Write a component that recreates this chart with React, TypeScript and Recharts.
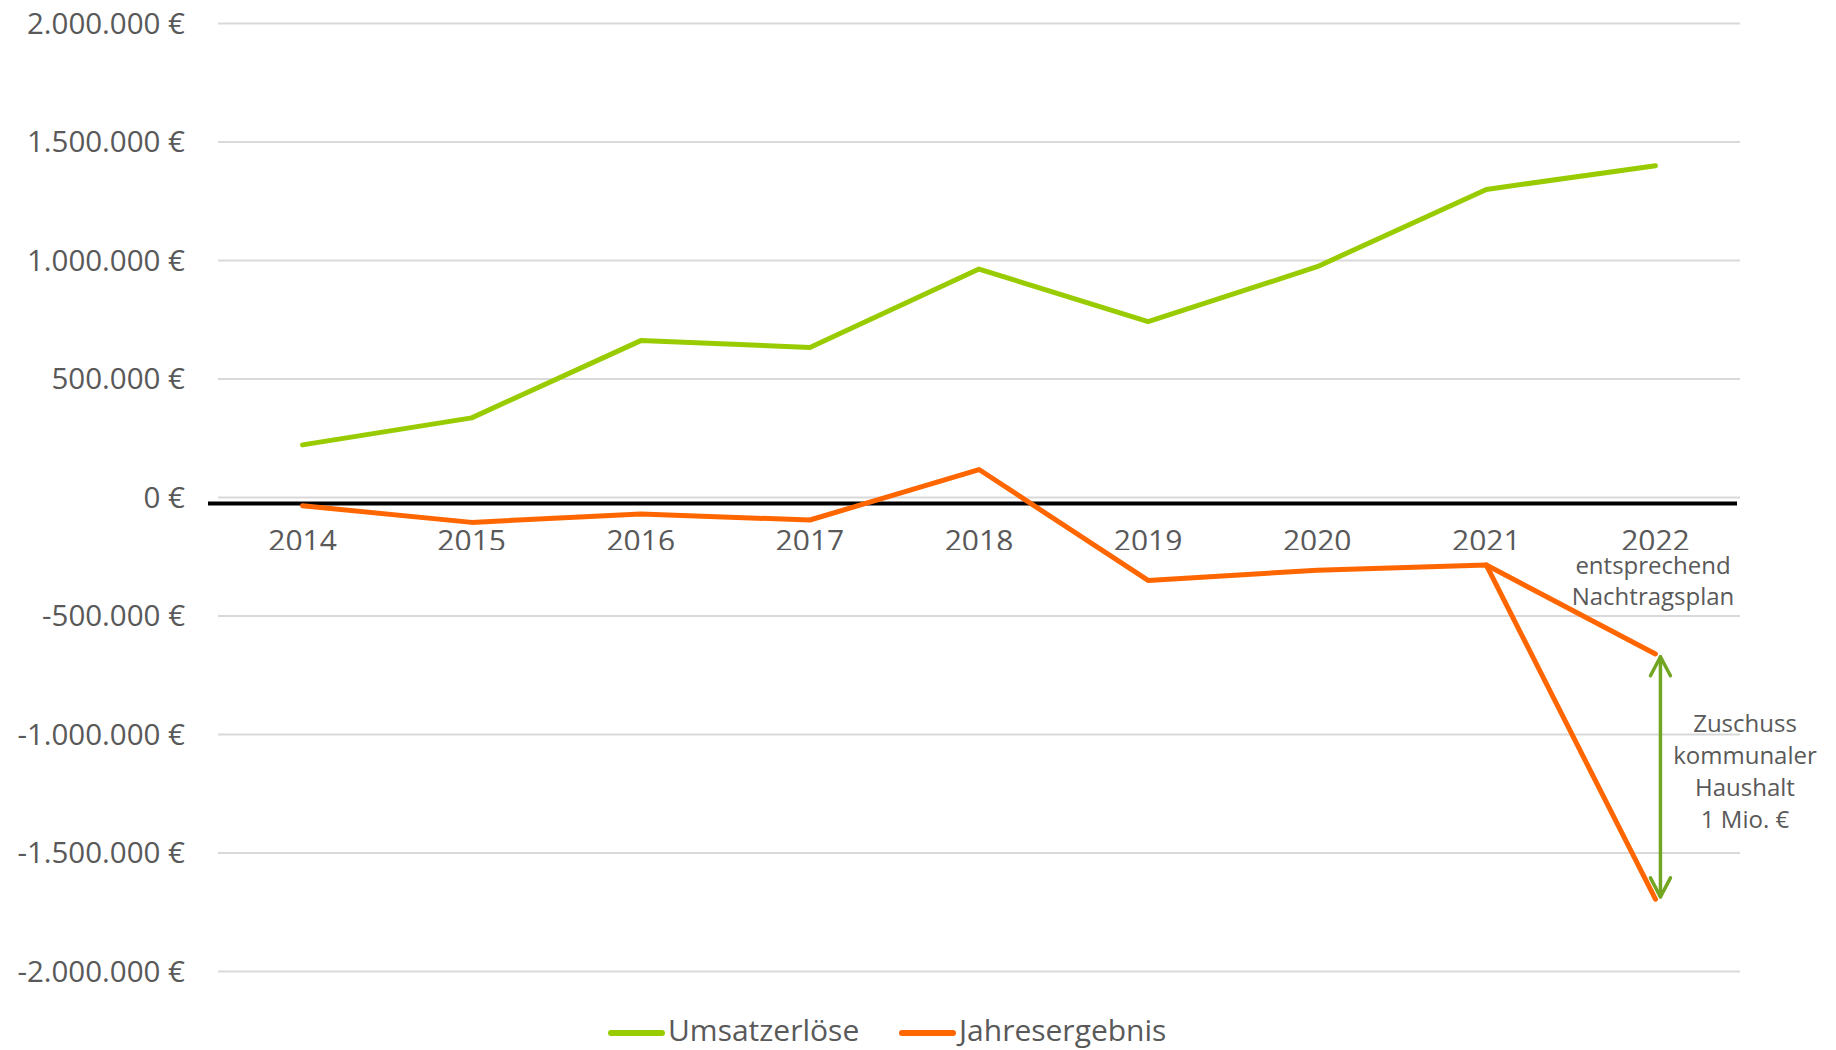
import React from "react";
import {
  LineChart,
  Line,
  XAxis,
  YAxis,
  CartesianGrid,
  ReferenceLine,
} from "recharts";

// Daten
const JAHRE = ["2014", "2015", "2016", "2017", "2018", "2019", "2020", "2021", "2022"];
const UMSATZ = [222000, 336000, 662000, 633000, 964000, 742000, 974000, 1300000, 1400000];
const ERGEBNIS = [-35000, -105000, -70000, -95000, 118000, -350000, -307000, -285000, -1695000];
// zweiter Verlauf 2021 -> 2022 "entsprechend Nachtragsplan"
const ERGEBNIS_PLAN = [null, null, null, null, null, null, null, -285000, -660000];
const Y_TICKS = [2000000, 1500000, 1000000, 500000, 0, -500000, -1000000, -1500000, -2000000];

const Y_MIN = -2000000;
const Y_MAX = 2000000;
const ACHSE_Y = -25000; // schwarze Linie sitzt knapp unter 0
const PFEIL_OBEN = -672000;
const PFEIL_UNTEN = -1685000;

const GRUEN = "#99cc00";
const ORANGE = "#ff6600";
const PFEIL = "#72a521";
const TEXT = "#595959";
const FONT = "'Open Sans', sans-serif";

const W = 1836;
const H = 1050;
const TOP = 23.5;
const BOTTOM = 971.5;
const LEFT = 218;
const RIGHT = 1740;
const XAXIS_H = 30;
const NULL_PX = TOP + ((Y_MAX - 0) / (Y_MAX - Y_MIN)) * (BOTTOM - TOP);

const data = JAHRE.map((jahr, i) => ({
  jahr,
  umsatz: UMSATZ[i],
  ergebnis: ERGEBNIS[i],
  plan: ERGEBNIS_PLAN[i],
}));

const fmtEuro = (v: number) => {
  const s = Math.abs(v)
    .toString()
    .replace(/\B(?=(\d{3})+(?!\d))/g, ".");
  return `${v < 0 ? "-" : ""}${s} €`;
};

function JahrTick(props: any) {
  const { x, payload } = props;
  // Beschriftung sitzt unter der Nulllinie und ist unten leicht abgeschnitten
  return (
    <svg x={x - 60} y={NULL_PX + 20} width={120} height={32.5} overflow="hidden">
      <text
        x={60}
        y={33.5}
        textAnchor="middle"
        fill={TEXT}
        fontSize={30}
        fontFamily={FONT}
      >
        {payload.value}
      </text>
    </svg>
  );
}

function AchsenLinie(p: any) {
  return (
    <line x1={p.x1 - 10} y1={p.y1} x2={p.x2 - 3} y2={p.y2} stroke="#000" strokeWidth={4} />
  );
}

function Doppelpfeil(p: any) {
  const x = p.x1 + 5;
  const oben = Math.min(p.y1, p.y2);
  const unten = Math.max(p.y1, p.y2);
  return (
    <g stroke={PFEIL} strokeWidth={3.5} fill="none" strokeLinecap="round" strokeLinejoin="round">
      <line x1={x} y1={oben} x2={x} y2={unten} />
      <polyline points={`${x - 10},${oben + 19} ${x},${oben} ${x + 10},${oben + 19}`} />
      <polyline points={`${x - 10},${unten - 19} ${x},${unten} ${x + 10},${unten - 19}`} />
    </g>
  );
}

function LegendItem({ left, farbe, label }: { left: number; farbe: string; label: string }) {
  return (
    <>
      <span
        style={{
          position: "absolute",
          left,
          top: 1030,
          width: 57,
          height: 6,
          borderRadius: 3,
          background: farbe,
        }}
      />
      <span
        style={{
          position: "absolute",
          left: left + 60,
          top: 1010,
          lineHeight: "40px",
          fontSize: 30,
          color: TEXT,
          whiteSpace: "nowrap",
        }}
      >
        {label}
      </span>
    </>
  );
}

export default function App() {
  return (
    <div style={{ position: "relative", width: W, height: H, fontFamily: FONT, background: "#fff" }}>
      <style>{`body{margin:0}`}</style>
      <LineChart
        width={W}
        height={H}
        data={data}
        margin={{ top: TOP, right: W - RIGHT, bottom: H - BOTTOM - XAXIS_H, left: 0 }}
      >
        <CartesianGrid vertical={false} stroke="#d9d9d9" strokeWidth={2} />
        <XAxis
          dataKey="jahr"
          height={XAXIS_H}
          axisLine={false}
          tickLine={false}
          interval={0}
          padding={{ left: (RIGHT - LEFT) / 18, right: (RIGHT - LEFT) / 18 }}
          tick={<JahrTick />}
        />
        <YAxis
          width={LEFT}
          domain={[Y_MIN, Y_MAX]}
          ticks={Y_TICKS}
          interval={0}
          axisLine={false}
          tickLine={false}
          tickSize={0}
          tickMargin={33}
          tickFormatter={fmtEuro}
          tick={{ fill: TEXT, fontSize: 29.5, fontFamily: FONT }}
        />
        <ReferenceLine y={ACHSE_Y} shape={AchsenLinie} />
        <Line
          type="linear"
          dataKey="umsatz"
          stroke={GRUEN}
          strokeWidth={5}
          strokeLinecap="round"
          strokeLinejoin="round"
          dot={false}
          isAnimationActive={false}
        />
        <Line
          type="linear"
          dataKey="ergebnis"
          stroke={ORANGE}
          strokeWidth={5}
          strokeLinecap="round"
          strokeLinejoin="round"
          dot={false}
          isAnimationActive={false}
        />
        <Line
          type="linear"
          dataKey="plan"
          stroke={ORANGE}
          strokeWidth={5}
          strokeLinecap="round"
          strokeLinejoin="round"
          dot={false}
          connectNulls={false}
          isAnimationActive={false}
        />
        <ReferenceLine
          segment={[
            { x: "2022", y: PFEIL_OBEN },
            { x: "2022", y: PFEIL_UNTEN },
          ]}
          shape={Doppelpfeil}
        />
      </LineChart>

      <div
        style={{
          position: "absolute",
          left: 1553,
          top: 549,
          width: 200,
          textAlign: "center",
          fontSize: 24,
          lineHeight: "31px",
          color: TEXT,
        }}
      >
        entsprechend
        <br />
        Nachtragsplan
      </div>
      <div
        style={{
          position: "absolute",
          left: 1645,
          top: 707,
          width: 200,
          textAlign: "center",
          fontSize: 24,
          lineHeight: "32px",
          color: TEXT,
        }}
      >
        Zuschuss
        <br />
        kommunaler
        <br />
        Haushalt
        <br />1 Mio. €
      </div>

      <LegendItem left={608} farbe={GRUEN} label="Umsatzerlöse" />
      <LegendItem left={899} farbe={ORANGE} label="Jahresergebnis" />
    </div>
  );
}
